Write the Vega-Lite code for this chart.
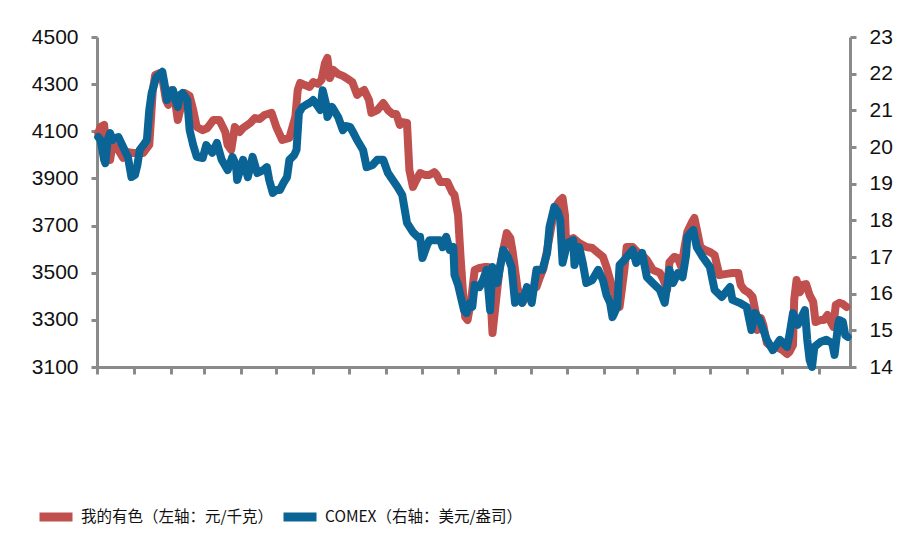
{
  "$schema": "https://vega.github.io/schema/vega-lite/v6.json",
  "autosize": {"type": "none"},
  "width": 753,
  "height": 330,
  "padding": {"left": 97, "top": 37, "right": 56, "bottom": 181},
  "background": "white",
  "config": {
    "view": {"stroke": null},
    "axis": {"grid": false, "domainColor": "#8a8a8a", "domainWidth": 3, "tickColor": "#8a8a8a", "tickWidth": 3, "tickSize": 6, "labelFont": "Liberation Sans", "labelFontSize": 21, "labelColor": "#111111", "labelPadding": 13, "title": null}
  },
  "datasets": {
    "sy": [
      {"date": "2013-12-02", "v": 4093}, {"date": "2013-12-04", "v": 4118}, {"date": "2013-12-07", "v": 4127}, {"date": "2013-12-09", "v": 4021},
      {"date": "2013-12-12", "v": 3978}, {"date": "2013-12-14", "v": 4042}, {"date": "2013-12-18", "v": 4029}, {"date": "2013-12-23", "v": 3987},
      {"date": "2013-12-26", "v": 4012}, {"date": "2013-12-31", "v": 4008}, {"date": "2014-01-09", "v": 4008}, {"date": "2014-01-14", "v": 4042},
      {"date": "2014-01-17", "v": 4275}, {"date": "2014-01-19", "v": 4339}, {"date": "2014-01-23", "v": 4347}, {"date": "2014-01-25", "v": 4326},
      {"date": "2014-01-28", "v": 4233}, {"date": "2014-01-30", "v": 4212}, {"date": "2014-02-02", "v": 4275}, {"date": "2014-02-04", "v": 4254},
      {"date": "2014-02-07", "v": 4148}, {"date": "2014-02-09", "v": 4190}, {"date": "2014-02-13", "v": 4262}, {"date": "2014-02-17", "v": 4250},
      {"date": "2014-02-20", "v": 4190}, {"date": "2014-02-23", "v": 4118}, {"date": "2014-02-28", "v": 4105}, {"date": "2014-03-04", "v": 4114},
      {"date": "2014-03-09", "v": 4148}, {"date": "2014-03-14", "v": 4148}, {"date": "2014-03-19", "v": 4097}, {"date": "2014-03-21", "v": 4042},
      {"date": "2014-03-24", "v": 4021}, {"date": "2014-03-27", "v": 4118}, {"date": "2014-03-31", "v": 4097}, {"date": "2014-04-03", "v": 4114},
      {"date": "2014-04-09", "v": 4135}, {"date": "2014-04-13", "v": 4156}, {"date": "2014-04-17", "v": 4152}, {"date": "2014-04-21", "v": 4169},
      {"date": "2014-04-27", "v": 4178}, {"date": "2014-05-01", "v": 4118}, {"date": "2014-05-06", "v": 4063}, {"date": "2014-05-12", "v": 4072},
      {"date": "2014-05-17", "v": 4161}, {"date": "2014-05-19", "v": 4275}, {"date": "2014-05-21", "v": 4305}, {"date": "2014-05-25", "v": 4296},
      {"date": "2014-05-29", "v": 4288}, {"date": "2014-06-01", "v": 4309}, {"date": "2014-06-05", "v": 4301}, {"date": "2014-06-08", "v": 4318},
      {"date": "2014-06-11", "v": 4390}, {"date": "2014-06-13", "v": 4411}, {"date": "2014-06-15", "v": 4326}, {"date": "2014-06-18", "v": 4360},
      {"date": "2014-06-22", "v": 4343}, {"date": "2014-06-26", "v": 4335}, {"date": "2014-06-30", "v": 4322}, {"date": "2014-07-04", "v": 4309},
      {"date": "2014-07-08", "v": 4254}, {"date": "2014-07-11", "v": 4267}, {"date": "2014-07-14", "v": 4275}, {"date": "2014-07-18", "v": 4233},
      {"date": "2014-07-20", "v": 4178}, {"date": "2014-07-25", "v": 4190}, {"date": "2014-07-30", "v": 4220}, {"date": "2014-08-03", "v": 4190},
      {"date": "2014-08-07", "v": 4173}, {"date": "2014-08-10", "v": 4173}, {"date": "2014-08-13", "v": 4127}, {"date": "2014-08-15", "v": 4139},
      {"date": "2014-08-19", "v": 4135}, {"date": "2014-08-21", "v": 3936}, {"date": "2014-08-24", "v": 3864}, {"date": "2014-08-26", "v": 3885},
      {"date": "2014-08-30", "v": 3923}, {"date": "2014-09-03", "v": 3915}, {"date": "2014-09-07", "v": 3915}, {"date": "2014-09-11", "v": 3927},
      {"date": "2014-09-13", "v": 3915}, {"date": "2014-09-16", "v": 3885}, {"date": "2014-09-20", "v": 3885}, {"date": "2014-09-22", "v": 3885},
      {"date": "2014-09-26", "v": 3842}, {"date": "2014-09-28", "v": 3830}, {"date": "2014-10-01", "v": 3745}, {"date": "2014-10-03", "v": 3575},
      {"date": "2014-10-05", "v": 3427}, {"date": "2014-10-07", "v": 3312}, {"date": "2014-10-09", "v": 3299}, {"date": "2014-10-12", "v": 3384},
      {"date": "2014-10-15", "v": 3512}, {"date": "2014-10-19", "v": 3520}, {"date": "2014-10-23", "v": 3524}, {"date": "2014-10-26", "v": 3524},
      {"date": "2014-10-28", "v": 3427}, {"date": "2014-10-30", "v": 3244}, {"date": "2014-11-02", "v": 3384}, {"date": "2014-11-05", "v": 3520},
      {"date": "2014-11-08", "v": 3596}, {"date": "2014-11-11", "v": 3668}, {"date": "2014-11-14", "v": 3647}, {"date": "2014-11-16", "v": 3588},
      {"date": "2014-11-20", "v": 3435}, {"date": "2014-11-24", "v": 3372}, {"date": "2014-11-28", "v": 3405}, {"date": "2014-12-01", "v": 3427},
      {"date": "2014-12-06", "v": 3439}, {"date": "2014-12-09", "v": 3482}, {"date": "2014-12-12", "v": 3520}, {"date": "2014-12-15", "v": 3596},
      {"date": "2014-12-18", "v": 3681}, {"date": "2014-12-21", "v": 3766}, {"date": "2014-12-23", "v": 3787}, {"date": "2014-12-26", "v": 3808},
      {"date": "2014-12-28", "v": 3817}, {"date": "2014-12-30", "v": 3745}, {"date": "2014-12-31", "v": 3618}, {"date": "2015-01-03", "v": 3639},
      {"date": "2015-01-06", "v": 3647}, {"date": "2015-01-11", "v": 3626}, {"date": "2015-01-17", "v": 3609}, {"date": "2015-01-22", "v": 3605},
      {"date": "2015-01-26", "v": 3588}, {"date": "2015-01-31", "v": 3567}, {"date": "2015-02-03", "v": 3524}, {"date": "2015-02-08", "v": 3435},
      {"date": "2015-02-12", "v": 3376}, {"date": "2015-02-14", "v": 3355}, {"date": "2015-02-18", "v": 3512}, {"date": "2015-02-20", "v": 3609},
      {"date": "2015-02-25", "v": 3609}, {"date": "2015-03-01", "v": 3588}, {"date": "2015-03-05", "v": 3575}, {"date": "2015-03-09", "v": 3554},
      {"date": "2015-03-14", "v": 3512}, {"date": "2015-03-20", "v": 3499}, {"date": "2015-03-23", "v": 3469}, {"date": "2015-03-26", "v": 3427},
      {"date": "2015-03-28", "v": 3545}, {"date": "2015-04-01", "v": 3567}, {"date": "2015-04-04", "v": 3562}, {"date": "2015-04-07", "v": 3524},
      {"date": "2015-04-10", "v": 3618}, {"date": "2015-04-12", "v": 3673}, {"date": "2015-04-16", "v": 3715}, {"date": "2015-04-18", "v": 3732},
      {"date": "2015-04-21", "v": 3660}, {"date": "2015-04-23", "v": 3609}, {"date": "2015-04-27", "v": 3596}, {"date": "2015-05-01", "v": 3588},
      {"date": "2015-05-05", "v": 3575}, {"date": "2015-05-09", "v": 3490}, {"date": "2015-05-15", "v": 3495}, {"date": "2015-05-20", "v": 3499},
      {"date": "2015-05-25", "v": 3499}, {"date": "2015-05-27", "v": 3448}, {"date": "2015-05-30", "v": 3427}, {"date": "2015-06-03", "v": 3414},
      {"date": "2015-06-06", "v": 3397}, {"date": "2015-06-09", "v": 3321}, {"date": "2015-06-10", "v": 3257}, {"date": "2015-06-13", "v": 3308},
      {"date": "2015-06-15", "v": 3278}, {"date": "2015-06-18", "v": 3202}, {"date": "2015-06-22", "v": 3185}, {"date": "2015-06-26", "v": 3185},
      {"date": "2015-07-01", "v": 3172}, {"date": "2015-07-05", "v": 3155}, {"date": "2015-07-07", "v": 3164}, {"date": "2015-07-10", "v": 3193},
      {"date": "2015-07-11", "v": 3384}, {"date": "2015-07-13", "v": 3469}, {"date": "2015-07-16", "v": 3418}, {"date": "2015-07-18", "v": 3448},
      {"date": "2015-07-21", "v": 3452}, {"date": "2015-07-24", "v": 3405}, {"date": "2015-07-27", "v": 3376}, {"date": "2015-07-29", "v": 3291},
      {"date": "2015-08-02", "v": 3299}, {"date": "2015-08-05", "v": 3299}, {"date": "2015-08-08", "v": 3321}, {"date": "2015-08-10", "v": 3299},
      {"date": "2015-08-13", "v": 3270}, {"date": "2015-08-15", "v": 3363}, {"date": "2015-08-18", "v": 3372}, {"date": "2015-08-21", "v": 3367},
      {"date": "2015-08-24", "v": 3355}
    ],
    "comex": [
      {"date": "2013-12-02", "v": 20.27}, {"date": "2013-12-04", "v": 20.19}, {"date": "2013-12-07", "v": 19.65}, {"date": "2013-12-08", "v": 19.56},
      {"date": "2013-12-10", "v": 20.19}, {"date": "2013-12-12", "v": 20.38}, {"date": "2013-12-14", "v": 20.19}, {"date": "2013-12-17", "v": 20.25},
      {"date": "2013-12-19", "v": 20.27}, {"date": "2013-12-23", "v": 20.0}, {"date": "2013-12-27", "v": 19.73}, {"date": "2013-12-30", "v": 19.18},
      {"date": "2014-01-02", "v": 19.24}, {"date": "2014-01-04", "v": 19.51}, {"date": "2014-01-06", "v": 19.92}, {"date": "2014-01-09", "v": 20.05},
      {"date": "2014-01-12", "v": 20.19}, {"date": "2014-01-14", "v": 21.01}, {"date": "2014-01-16", "v": 21.47}, {"date": "2014-01-20", "v": 21.91},
      {"date": "2014-01-23", "v": 21.99}, {"date": "2014-01-25", "v": 22.05}, {"date": "2014-01-27", "v": 21.69}, {"date": "2014-01-29", "v": 21.28},
      {"date": "2014-01-31", "v": 21.5}, {"date": "2014-02-03", "v": 21.55}, {"date": "2014-02-05", "v": 21.28}, {"date": "2014-02-07", "v": 21.09},
      {"date": "2014-02-09", "v": 21.42}, {"date": "2014-02-11", "v": 21.47}, {"date": "2014-02-15", "v": 21.28}, {"date": "2014-02-17", "v": 20.46},
      {"date": "2014-02-20", "v": 20.05}, {"date": "2014-02-23", "v": 19.73}, {"date": "2014-02-28", "v": 19.7}, {"date": "2014-03-03", "v": 20.05},
      {"date": "2014-03-08", "v": 19.84}, {"date": "2014-03-12", "v": 20.11}, {"date": "2014-03-16", "v": 19.65}, {"date": "2014-03-21", "v": 19.37},
      {"date": "2014-03-25", "v": 19.73}, {"date": "2014-03-28", "v": 19.51}, {"date": "2014-03-29", "v": 19.1}, {"date": "2014-04-03", "v": 19.65},
      {"date": "2014-04-07", "v": 19.18}, {"date": "2014-04-11", "v": 19.73}, {"date": "2014-04-15", "v": 19.29}, {"date": "2014-04-20", "v": 19.37},
      {"date": "2014-04-23", "v": 19.45}, {"date": "2014-04-25", "v": 19.1}, {"date": "2014-04-28", "v": 18.75}, {"date": "2014-05-01", "v": 18.83},
      {"date": "2014-05-04", "v": 18.83}, {"date": "2014-05-07", "v": 19.02}, {"date": "2014-05-10", "v": 19.18}, {"date": "2014-05-12", "v": 19.65},
      {"date": "2014-05-16", "v": 19.78}, {"date": "2014-05-18", "v": 19.92}, {"date": "2014-05-20", "v": 20.93}, {"date": "2014-05-23", "v": 21.09},
      {"date": "2014-05-27", "v": 21.17}, {"date": "2014-05-29", "v": 21.2}, {"date": "2014-06-01", "v": 21.28}, {"date": "2014-06-04", "v": 21.15},
      {"date": "2014-06-07", "v": 21.01}, {"date": "2014-06-09", "v": 21.55}, {"date": "2014-06-12", "v": 21.15}, {"date": "2014-06-13", "v": 20.82},
      {"date": "2014-06-17", "v": 21.09}, {"date": "2014-06-22", "v": 20.82}, {"date": "2014-06-26", "v": 20.46}, {"date": "2014-06-29", "v": 20.57},
      {"date": "2014-07-02", "v": 20.55}, {"date": "2014-07-05", "v": 20.38}, {"date": "2014-07-08", "v": 20.19}, {"date": "2014-07-13", "v": 19.92},
      {"date": "2014-07-16", "v": 19.45}, {"date": "2014-07-21", "v": 19.51}, {"date": "2014-07-25", "v": 19.65}, {"date": "2014-07-30", "v": 19.65},
      {"date": "2014-08-03", "v": 19.29}, {"date": "2014-08-07", "v": 19.1}, {"date": "2014-08-11", "v": 18.91}, {"date": "2014-08-15", "v": 18.69},
      {"date": "2014-08-19", "v": 17.93}, {"date": "2014-08-24", "v": 17.68}, {"date": "2014-08-28", "v": 17.55}, {"date": "2014-08-30", "v": 17.55},
      {"date": "2014-09-01", "v": 16.97}, {"date": "2014-09-05", "v": 17.33}, {"date": "2014-09-07", "v": 17.46}, {"date": "2014-09-11", "v": 17.46},
      {"date": "2014-09-16", "v": 17.46}, {"date": "2014-09-18", "v": 17.27}, {"date": "2014-09-21", "v": 17.55}, {"date": "2014-09-24", "v": 17.19},
      {"date": "2014-09-27", "v": 17.27}, {"date": "2014-09-28", "v": 16.51}, {"date": "2014-10-01", "v": 16.24}, {"date": "2014-10-03", "v": 15.96},
      {"date": "2014-10-06", "v": 15.55}, {"date": "2014-10-08", "v": 15.47}, {"date": "2014-10-11", "v": 15.75}, {"date": "2014-10-13", "v": 15.64},
      {"date": "2014-10-15", "v": 16.24}, {"date": "2014-10-19", "v": 16.18}, {"date": "2014-10-22", "v": 16.37}, {"date": "2014-10-25", "v": 16.65},
      {"date": "2014-10-28", "v": 15.55}, {"date": "2014-10-30", "v": 16.73}, {"date": "2014-11-03", "v": 16.29}, {"date": "2014-11-08", "v": 17.19},
      {"date": "2014-11-12", "v": 17.0}, {"date": "2014-11-15", "v": 16.73}, {"date": "2014-11-18", "v": 15.75}, {"date": "2014-11-22", "v": 15.91},
      {"date": "2014-11-24", "v": 15.75}, {"date": "2014-11-28", "v": 16.18}, {"date": "2014-12-02", "v": 15.75}, {"date": "2014-12-06", "v": 16.65},
      {"date": "2014-12-11", "v": 16.65}, {"date": "2014-12-15", "v": 17.11}, {"date": "2014-12-17", "v": 17.82}, {"date": "2014-12-21", "v": 18.36},
      {"date": "2014-12-24", "v": 18.23}, {"date": "2014-12-26", "v": 18.01}, {"date": "2014-12-28", "v": 16.84}, {"date": "2015-01-01", "v": 17.38},
      {"date": "2015-01-06", "v": 17.46}, {"date": "2015-01-07", "v": 16.78}, {"date": "2015-01-11", "v": 17.27}, {"date": "2015-01-14", "v": 16.84},
      {"date": "2015-01-17", "v": 16.29}, {"date": "2015-01-22", "v": 16.37}, {"date": "2015-01-27", "v": 16.65}, {"date": "2015-01-31", "v": 16.37},
      {"date": "2015-02-03", "v": 15.96}, {"date": "2015-02-06", "v": 15.75}, {"date": "2015-02-08", "v": 15.36}, {"date": "2015-02-12", "v": 15.64},
      {"date": "2015-02-14", "v": 16.78}, {"date": "2015-02-18", "v": 16.92}, {"date": "2015-02-20", "v": 17.0}, {"date": "2015-02-25", "v": 17.19},
      {"date": "2015-02-28", "v": 16.84}, {"date": "2015-03-05", "v": 17.11}, {"date": "2015-03-09", "v": 16.45}, {"date": "2015-03-14", "v": 16.29},
      {"date": "2015-03-20", "v": 16.1}, {"date": "2015-03-24", "v": 15.75}, {"date": "2015-03-28", "v": 16.65}, {"date": "2015-03-31", "v": 16.29},
      {"date": "2015-04-04", "v": 16.56}, {"date": "2015-04-08", "v": 16.45}, {"date": "2015-04-11", "v": 17.05}, {"date": "2015-04-12", "v": 17.55},
      {"date": "2015-04-17", "v": 17.74}, {"date": "2015-04-20", "v": 17.27}, {"date": "2015-04-25", "v": 17.0}, {"date": "2015-05-01", "v": 16.73},
      {"date": "2015-05-05", "v": 16.1}, {"date": "2015-05-11", "v": 15.91}, {"date": "2015-05-18", "v": 16.18}, {"date": "2015-05-20", "v": 15.83},
      {"date": "2015-05-26", "v": 15.75}, {"date": "2015-06-01", "v": 15.64}, {"date": "2015-06-05", "v": 15.01}, {"date": "2015-06-08", "v": 15.47},
      {"date": "2015-06-12", "v": 15.28}, {"date": "2015-06-15", "v": 15.01}, {"date": "2015-06-18", "v": 14.74}, {"date": "2015-06-23", "v": 14.46},
      {"date": "2015-06-26", "v": 14.6}, {"date": "2015-06-29", "v": 14.74}, {"date": "2015-07-05", "v": 14.55}, {"date": "2015-07-07", "v": 14.87},
      {"date": "2015-07-10", "v": 15.47}, {"date": "2015-07-14", "v": 15.15}, {"date": "2015-07-20", "v": 15.55}, {"date": "2015-07-22", "v": 14.74},
      {"date": "2015-07-24", "v": 14.19}, {"date": "2015-07-26", "v": 14.0}, {"date": "2015-07-28", "v": 14.55}, {"date": "2015-08-02", "v": 14.68},
      {"date": "2015-08-07", "v": 14.74}, {"date": "2015-08-12", "v": 14.65}, {"date": "2015-08-14", "v": 14.33}, {"date": "2015-08-17", "v": 15.15},
      {"date": "2015-08-18", "v": 15.28}, {"date": "2015-08-21", "v": 15.23}, {"date": "2015-08-23", "v": 14.87}, {"date": "2015-08-25", "v": 14.82}
    ]
  },
  "layer": [
    {
      "data": {"name": "sy"},
      "mark": {"type": "line", "strokeWidth": 8, "strokeJoin": "round", "strokeCap": "round", "clip": false},
      "encoding": {
        "x": {"field": "date", "type": "temporal",
          "scale": {"type": "utc", "domain": [{"year": 2013, "month": 12, "date": 1, "utc": true}, {"year": 2015, "month": 8, "date": 27, "utc": true}]},
          "axis": {"labels": false, "tickCount": {"interval": "month", "step": 1}, "tickSize": 7, "domainCap": "square"}},
        "y": {"field": "v", "type": "quantitative",
          "scale": {"domain": [3100, 4500], "zero": false, "nice": false},
          "axis": {"orient": "left", "format": "d", "values": [3100, 3300, 3500, 3700, 3900, 4100, 4300, 4500]}},
        "color": {"datum": "我的有色（左轴：元/千克）", "type": "nominal",
          "scale": {"domain": ["我的有色（左轴：元/千克）", "COMEX（右轴：美元/盎司）"], "range": ["#C0504D", "#0A6496"]},
          "legend": {"orient": "none", "legendX": -62, "legendY": 459, "direction": "horizontal", "title": null,
            "symbolType": "stroke", "symbolSize": 1089, "symbolStrokeWidth": 9, "labelFont": "Noto Sans CJK SC", "labelFontSize": 15.5,
            "labelColor": "#111111", "labelOffset": 4, "labelLimit": 0, "columnPadding": -9, "gridAlign": "none"}}
      }
    },
    {
      "data": {"name": "comex"},
      "mark": {"type": "line", "strokeWidth": 8, "strokeJoin": "round", "strokeCap": "round", "clip": false},
      "encoding": {
        "x": {"field": "date", "type": "temporal"},
        "y": {"field": "v", "type": "quantitative",
          "scale": {"domain": [14, 23], "zero": false, "nice": false},
          "axis": {"orient": "right", "values": [14, 15, 16, 17, 18, 19, 20, 21, 22, 23]}},
        "color": {"datum": "COMEX（右轴：美元/盎司）", "type": "nominal"}
      }
    }
  ],
  "resolve": {"scale": {"y": "independent"}}
}
